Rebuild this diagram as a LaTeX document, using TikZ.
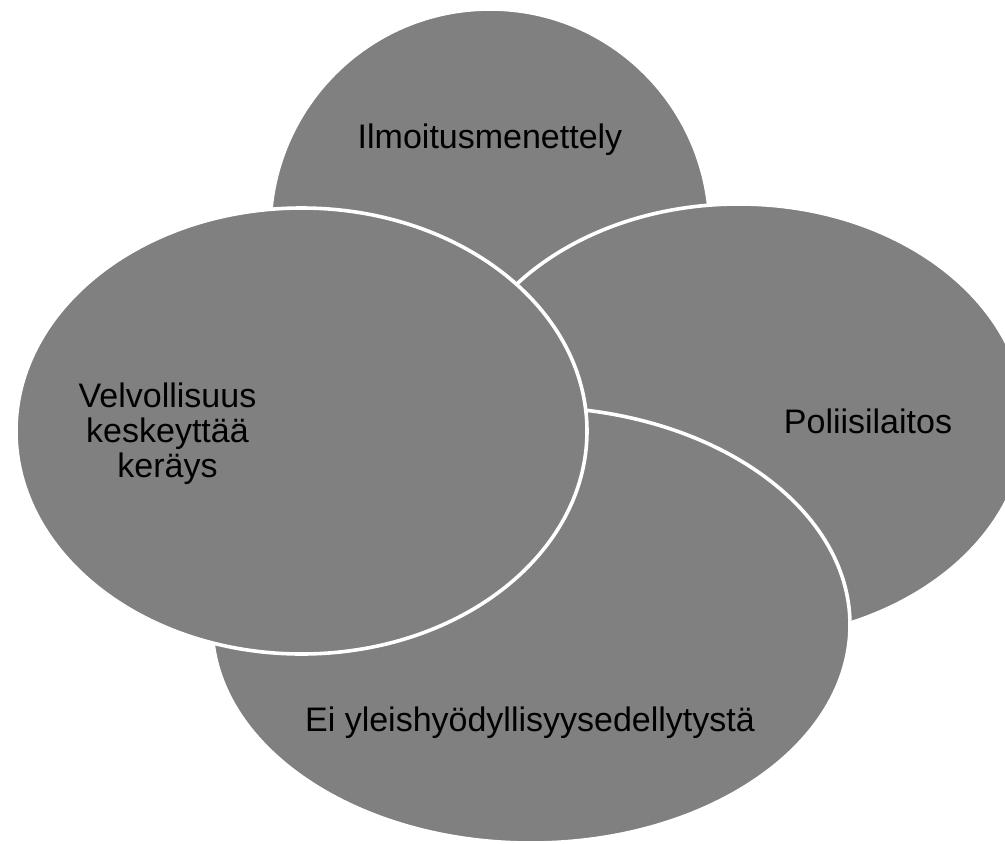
\documentclass[tikz,border=0pt]{standalone}
\usepackage{fontspec}
\setmainfont{Liberation Sans}
\usetikzlibrary{shapes.geometric}
\definecolor{blobgray}{RGB}{128,128,128}
\tikzset{
  blob/.style={ellipse, fill=blobgray, draw=white, line width=3.6pt, inner sep=0pt},
  lbl/.style={font=\fontsize{34}{35}\selectfont, text=black, align=center, inner sep=0pt}
}
\begin{document}
\begin{tikzpicture}[x=1pt,y=-1pt]
\useasboundingbox (0,0) rectangle (1005,844);
\clip (0,0) rectangle (1005,844);
\node[blob, minimum width=440pt, minimum height=442pt] (top) at (490,230) {};
\node[blob, minimum width=574pt, minimum height=436pt] (right) at (739,422) {};
\node[blob, minimum width=638pt, minimum height=436pt] (bottom) at (531,625) {};
\node[blob, minimum width=571pt, minimum height=446pt] (left) at (301.5,431) {};
\node[lbl, anchor=base] (ttop) at (490,148) {Ilmoitusmenettely};
\node[lbl, anchor=base] (tright) at (868,433) {Poliisilaitos};
\node[lbl, anchor=base] (tbottom) at (530,731) {Ei yleishyödyllisyysedellytystä};
\node[lbl] (tleft) at (167.5,434) {Velvollisuus\\keskeyttää\\keräys};
\end{tikzpicture}
\end{document}
